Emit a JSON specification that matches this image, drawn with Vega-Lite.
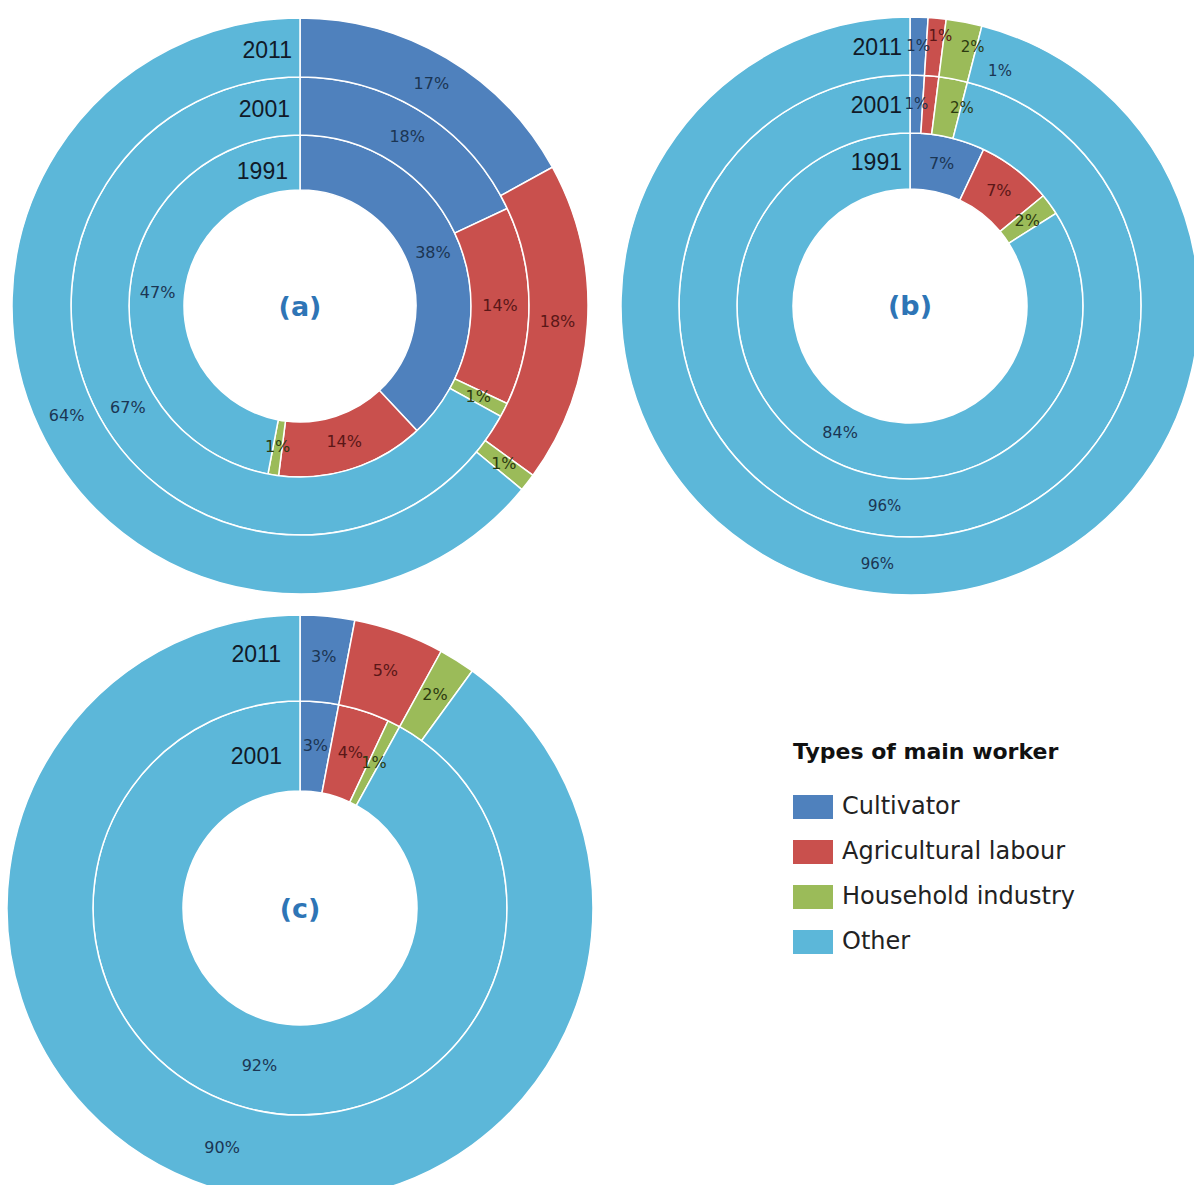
{
  "$schema": "https://vega.github.io/schema/vega-lite/v6.json",
  "padding": 0,
  "background": "white",
  "config": {"view": {"stroke": null}},
  "datasets": {
    "a": [
      {"year": 1991, "type": "Cultivator", "value": 0.38},
      {"year": 1991, "type": "Agricultural labour", "value": 0.14},
      {"year": 1991, "type": "Household industry", "value": 0.01},
      {"year": 1991, "type": "Other", "value": 0.47},
      {"year": 2001, "type": "Cultivator", "value": 0.18},
      {"year": 2001, "type": "Agricultural labour", "value": 0.14},
      {"year": 2001, "type": "Household industry", "value": 0.01},
      {"year": 2001, "type": "Other", "value": 0.67},
      {"year": 2011, "type": "Cultivator", "value": 0.17},
      {"year": 2011, "type": "Agricultural labour", "value": 0.18},
      {"year": 2011, "type": "Household industry", "value": 0.01},
      {"year": 2011, "type": "Other", "value": 0.64}
    ],
    "b": [
      {"year": 1991, "type": "Cultivator", "value": 0.07},
      {"year": 1991, "type": "Agricultural labour", "value": 0.07},
      {"year": 1991, "type": "Household industry", "value": 0.02},
      {"year": 1991, "type": "Other", "value": 0.84},
      {"year": 2001, "type": "Cultivator", "value": 0.01},
      {"year": 2001, "type": "Agricultural labour", "value": 0.01},
      {"year": 2001, "type": "Household industry", "value": 0.02},
      {"year": 2001, "type": "Other", "value": 0.96},
      {"year": 2011, "type": "Cultivator", "value": 0.01},
      {"year": 2011, "type": "Agricultural labour", "value": 0.01},
      {"year": 2011, "type": "Household industry", "value": 0.02},
      {"year": 2011, "type": "Other", "value": 0.96}
    ],
    "c": [
      {"year": 2001, "type": "Cultivator", "value": 0.03},
      {"year": 2001, "type": "Agricultural labour", "value": 0.04},
      {"year": 2001, "type": "Household industry", "value": 0.01},
      {"year": 2001, "type": "Other", "value": 0.92},
      {"year": 2011, "type": "Cultivator", "value": 0.03},
      {"year": 2011, "type": "Agricultural labour", "value": 0.05},
      {"year": 2011, "type": "Household industry", "value": 0.02},
      {"year": 2011, "type": "Other", "value": 0.90}
    ]
  },
  "spacing": 0,
  "vconcat": [
    {
      "spacing": 10,
      "hconcat": [
        {
          "width": 600, "height": 612,
          "data": {"name": "a"},
          "transform": [{"calculate": "indexof(['Cultivator','Agricultural labour','Household industry','Other'], datum.type)", "as": "rank"}],
          "layer": [
            {"transform": [{"filter": "datum.year == 1991"}], "mark": {"type": "arc", "radius": 171, "radius2": 116, "stroke": "#ffffff", "strokeWidth": 1.5},
             "encoding": {"theta": {"field": "value", "type": "quantitative", "stack": true, "scale": {"domain": [0, 1]}}, "order": {"field": "rank", "type": "quantitative"},
               "color": {"field": "type", "type": "nominal", "sort": ["Cultivator", "Agricultural labour", "Household industry", "Other"], "scale": {"domain": ["Cultivator", "Agricultural labour", "Household industry", "Other"], "range": ["#4F81BD", "#C9504D", "#9BBB59", "#5CB7D9"]},
                 "legend": {"title": "Types of main worker", "orient": "none", "legendX": 793, "legendY": 742, "titleFont": "DejaVu Sans", "titleFontSize": 22, "titleFontWeight": "bold", "titleColor": "#111111", "titlePadding": 23, "titleLimit": 600, "labelFont": "DejaVu Sans", "labelFontSize": 24, "labelColor": "#222222", "labelLimit": 500, "labelOffset": 9, "symbolType": "M-1,-0.6H1V0.6H-1Z", "symbolSize": 1600, "symbolStrokeWidth": 0, "symbolOpacity": 1, "rowPadding": 13}}}},
            {"transform": [{"filter": "datum.year == 2001"}], "mark": {"type": "arc", "radius": 229, "radius2": 171, "stroke": "#ffffff", "strokeWidth": 1.5},
             "encoding": {"theta": {"field": "value", "type": "quantitative", "stack": true, "scale": {"domain": [0, 1]}}, "order": {"field": "rank", "type": "quantitative"},
               "color": {"field": "type", "type": "nominal", "sort": ["Cultivator", "Agricultural labour", "Household industry", "Other"], "scale": {"domain": ["Cultivator", "Agricultural labour", "Household industry", "Other"], "range": ["#4F81BD", "#C9504D", "#9BBB59", "#5CB7D9"]},
                 "legend": {"title": "Types of main worker", "orient": "none", "legendX": 793, "legendY": 742, "titleFont": "DejaVu Sans", "titleFontSize": 22, "titleFontWeight": "bold", "titleColor": "#111111", "titlePadding": 23, "titleLimit": 600, "labelFont": "DejaVu Sans", "labelFontSize": 24, "labelColor": "#222222", "labelLimit": 500, "labelOffset": 9, "symbolType": "M-1,-0.6H1V0.6H-1Z", "symbolSize": 1600, "symbolStrokeWidth": 0, "symbolOpacity": 1, "rowPadding": 13}}}},
            {"transform": [{"filter": "datum.year == 2011"}], "mark": {"type": "arc", "radius": 288, "radius2": 229, "stroke": "#ffffff", "strokeWidth": 1.5},
             "encoding": {"theta": {"field": "value", "type": "quantitative", "stack": true, "scale": {"domain": [0, 1]}}, "order": {"field": "rank", "type": "quantitative"},
               "color": {"field": "type", "type": "nominal", "sort": ["Cultivator", "Agricultural labour", "Household industry", "Other"], "scale": {"domain": ["Cultivator", "Agricultural labour", "Household industry", "Other"], "range": ["#4F81BD", "#C9504D", "#9BBB59", "#5CB7D9"]},
                 "legend": {"title": "Types of main worker", "orient": "none", "legendX": 793, "legendY": 742, "titleFont": "DejaVu Sans", "titleFontSize": 22, "titleFontWeight": "bold", "titleColor": "#111111", "titlePadding": 23, "titleLimit": 600, "labelFont": "DejaVu Sans", "labelFontSize": 24, "labelColor": "#222222", "labelLimit": 500, "labelOffset": 9, "symbolType": "M-1,-0.6H1V0.6H-1Z", "symbolSize": 1600, "symbolStrokeWidth": 0, "symbolOpacity": 1, "rowPadding": 13}}}},
            {"transform": [{"filter": "datum.year == 1991"}], "mark": {"type": "text", "radius": 143, "font": "DejaVu Sans", "fontSize": 16},
             "encoding": {"theta": {"field": "value", "type": "quantitative", "stack": true, "scale": {"domain": [0, 1]}}, "order": {"field": "rank", "type": "quantitative"}, "detail": {"field": "type", "type": "nominal"},
               "text": {"field": "value", "type": "quantitative", "format": ".0%"},
               "color": {"condition": [{"test": "datum.type === 'Agricultural labour'", "value": "#5a1717"}, {"test": "datum.type === 'Household industry'", "value": "#2c3a10"}], "value": "#1b3553"}}},
            {"transform": [{"filter": "datum.year == 2001"}], "mark": {"type": "text", "radius": 200, "font": "DejaVu Sans", "fontSize": 16},
             "encoding": {"theta": {"field": "value", "type": "quantitative", "stack": true, "scale": {"domain": [0, 1]}}, "order": {"field": "rank", "type": "quantitative"}, "detail": {"field": "type", "type": "nominal"},
               "text": {"field": "value", "type": "quantitative", "format": ".0%"},
               "color": {"condition": [{"test": "datum.type === 'Agricultural labour'", "value": "#5a1717"}, {"test": "datum.type === 'Household industry'", "value": "#2c3a10"}], "value": "#1b3553"}}},
            {"transform": [{"filter": "datum.year == 2011"}], "mark": {"type": "text", "radius": 258, "font": "DejaVu Sans", "fontSize": 16},
             "encoding": {"theta": {"field": "value", "type": "quantitative", "stack": true, "scale": {"domain": [0, 1]}}, "order": {"field": "rank", "type": "quantitative"}, "detail": {"field": "type", "type": "nominal"},
               "text": {"field": "value", "type": "quantitative", "format": ".0%"},
               "color": {"condition": [{"test": "datum.type === 'Agricultural labour'", "value": "#5a1717"}, {"test": "datum.type === 'Household industry'", "value": "#2c3a10"}], "value": "#1b3553"}}},
            {"transform": [{"filter": "datum.year == 1991 && datum.type === 'Other'"}], "mark": {"type": "text", "theta": 0, "radius": 143, "align": "right", "baseline": "middle", "dx": -12, "dy": 9, "font": "Liberation Sans", "fontSize": 23, "color": "#111a28"}, "encoding": {"text": {"field": "year", "type": "nominal"}}},
            {"transform": [{"filter": "datum.year == 2001 && datum.type === 'Other'"}], "mark": {"type": "text", "theta": 0, "radius": 200, "align": "right", "baseline": "middle", "dx": -10, "dy": 4, "font": "Liberation Sans", "fontSize": 23, "color": "#111a28"}, "encoding": {"text": {"field": "year", "type": "nominal"}}},
            {"transform": [{"filter": "datum.year == 2011 && datum.type === 'Other'"}], "mark": {"type": "text", "theta": 0, "radius": 258, "align": "right", "baseline": "middle", "dx": -8, "dy": 3, "font": "Liberation Sans", "fontSize": 23, "color": "#111a28"}, "encoding": {"text": {"field": "year", "type": "nominal"}}},
            {"transform": [{"filter": "datum.year == 2011 && datum.type === 'Other'"}], "mark": {"type": "text", "baseline": "middle", "dy": 2, "font": "DejaVu Sans", "fontWeight": "bold", "fontSize": 27, "color": "#2E75B6"}, "encoding": {"text": {"value": "(a)"}}}
          ]
        },
        {
          "width": 600, "height": 612,
          "data": {"name": "b"},
          "transform": [{"calculate": "indexof(['Cultivator','Agricultural labour','Household industry','Other'], datum.type)", "as": "rank"}],
          "layer": [
            {"transform": [{"filter": "datum.year == 1991"}], "mark": {"type": "arc", "radius": 173, "radius2": 117, "stroke": "#ffffff", "strokeWidth": 1.5},
             "encoding": {"theta": {"field": "value", "type": "quantitative", "stack": true, "scale": {"domain": [0, 1]}}, "order": {"field": "rank", "type": "quantitative"},
               "color": {"field": "type", "type": "nominal", "sort": ["Cultivator", "Agricultural labour", "Household industry", "Other"], "scale": {"domain": ["Cultivator", "Agricultural labour", "Household industry", "Other"], "range": ["#4F81BD", "#C9504D", "#9BBB59", "#5CB7D9"]},
                 "legend": {"title": "Types of main worker", "orient": "none", "legendX": 793, "legendY": 742, "titleFont": "DejaVu Sans", "titleFontSize": 22, "titleFontWeight": "bold", "titleColor": "#111111", "titlePadding": 23, "titleLimit": 600, "labelFont": "DejaVu Sans", "labelFontSize": 24, "labelColor": "#222222", "labelLimit": 500, "labelOffset": 9, "symbolType": "M-1,-0.6H1V0.6H-1Z", "symbolSize": 1600, "symbolStrokeWidth": 0, "symbolOpacity": 1, "rowPadding": 13}}}},
            {"transform": [{"filter": "datum.year == 2001"}], "mark": {"type": "arc", "radius": 231, "radius2": 173, "stroke": "#ffffff", "strokeWidth": 1.5},
             "encoding": {"theta": {"field": "value", "type": "quantitative", "stack": true, "scale": {"domain": [0, 1]}}, "order": {"field": "rank", "type": "quantitative"},
               "color": {"field": "type", "type": "nominal", "sort": ["Cultivator", "Agricultural labour", "Household industry", "Other"], "scale": {"domain": ["Cultivator", "Agricultural labour", "Household industry", "Other"], "range": ["#4F81BD", "#C9504D", "#9BBB59", "#5CB7D9"]},
                 "legend": {"title": "Types of main worker", "orient": "none", "legendX": 793, "legendY": 742, "titleFont": "DejaVu Sans", "titleFontSize": 22, "titleFontWeight": "bold", "titleColor": "#111111", "titlePadding": 23, "titleLimit": 600, "labelFont": "DejaVu Sans", "labelFontSize": 24, "labelColor": "#222222", "labelLimit": 500, "labelOffset": 9, "symbolType": "M-1,-0.6H1V0.6H-1Z", "symbolSize": 1600, "symbolStrokeWidth": 0, "symbolOpacity": 1, "rowPadding": 13}}}},
            {"transform": [{"filter": "datum.year == 2011"}], "mark": {"type": "arc", "radius": 289, "radius2": 231, "stroke": "#ffffff", "strokeWidth": 1.5},
             "encoding": {"theta": {"field": "value", "type": "quantitative", "stack": true, "scale": {"domain": [0, 1]}}, "order": {"field": "rank", "type": "quantitative"},
               "color": {"field": "type", "type": "nominal", "sort": ["Cultivator", "Agricultural labour", "Household industry", "Other"], "scale": {"domain": ["Cultivator", "Agricultural labour", "Household industry", "Other"], "range": ["#4F81BD", "#C9504D", "#9BBB59", "#5CB7D9"]},
                 "legend": {"title": "Types of main worker", "orient": "none", "legendX": 793, "legendY": 742, "titleFont": "DejaVu Sans", "titleFontSize": 22, "titleFontWeight": "bold", "titleColor": "#111111", "titlePadding": 23, "titleLimit": 600, "labelFont": "DejaVu Sans", "labelFontSize": 24, "labelColor": "#222222", "labelLimit": 500, "labelOffset": 9, "symbolType": "M-1,-0.6H1V0.6H-1Z", "symbolSize": 1600, "symbolStrokeWidth": 0, "symbolOpacity": 1, "rowPadding": 13}}}},
            {"transform": [{"filter": "datum.year == 1991"}], "mark": {"type": "text", "radius": 145, "font": "DejaVu Sans", "fontSize": 16},
             "encoding": {"theta": {"field": "value", "type": "quantitative", "stack": true, "scale": {"domain": [0, 1]}}, "order": {"field": "rank", "type": "quantitative"}, "detail": {"field": "type", "type": "nominal"},
               "text": {"field": "value", "type": "quantitative", "format": ".0%"},
               "color": {"condition": [{"test": "datum.type === 'Agricultural labour'", "value": "#5a1717"}, {"test": "datum.type === 'Household industry'", "value": "#2c3a10"}], "value": "#1b3553"}}},
            {"transform": [{"filter": "datum.year == 2001"}], "mark": {"type": "text", "radius": 202, "font": "DejaVu Sans", "fontSize": 15},
             "encoding": {"theta": {"field": "value", "type": "quantitative", "stack": true, "scale": {"domain": [0, 1]}}, "order": {"field": "rank", "type": "quantitative"}, "detail": {"field": "type", "type": "nominal"},
               "text": {"condition": {"test": "datum.type === 'Agricultural labour' || datum.type === 'Household industry'", "value": ""}, "field": "value", "type": "quantitative", "format": ".0%"},
               "color": {"value": "#1b3553"}}},
            {"transform": [{"filter": "datum.year == 2001"}], "mark": {"type": "text", "radius": 202, "dx": 71, "dy": -34, "font": "DejaVu Sans", "fontSize": 15},
             "encoding": {"theta": {"field": "value", "type": "quantitative", "stack": true, "scale": {"domain": [0, 1]}}, "order": {"field": "rank", "type": "quantitative"}, "detail": {"field": "type", "type": "nominal"},
               "text": {"condition": {"test": "datum.type !== 'Agricultural labour'", "value": ""}, "field": "value", "type": "quantitative", "format": ".0%"},
               "color": {"value": "#1b3553"}}},
            {"transform": [{"filter": "datum.year == 2001"}], "mark": {"type": "text", "radius": 202, "dx": 14, "font": "DejaVu Sans", "fontSize": 15},
             "encoding": {"theta": {"field": "value", "type": "quantitative", "stack": true, "scale": {"domain": [0, 1]}}, "order": {"field": "rank", "type": "quantitative"}, "detail": {"field": "type", "type": "nominal"},
               "text": {"condition": {"test": "datum.type !== 'Household industry'", "value": ""}, "field": "value", "type": "quantitative", "format": ".0%"},
               "color": {"value": "#2c3a10"}}},
            {"transform": [{"filter": "datum.year == 2011"}], "mark": {"type": "text", "radius": 260, "font": "DejaVu Sans", "fontSize": 15},
             "encoding": {"theta": {"field": "value", "type": "quantitative", "stack": true, "scale": {"domain": [0, 1]}}, "order": {"field": "rank", "type": "quantitative"}, "detail": {"field": "type", "type": "nominal"},
               "text": {"condition": {"test": "datum.type === 'Agricultural labour' || datum.type === 'Household industry'", "value": ""}, "field": "value", "type": "quantitative", "format": ".0%"},
               "color": {"value": "#1b3553"}}},
            {"transform": [{"filter": "datum.year == 2011"}], "mark": {"type": "text", "radius": 260, "dx": 6, "dy": -11, "font": "DejaVu Sans", "fontSize": 15},
             "encoding": {"theta": {"field": "value", "type": "quantitative", "stack": true, "scale": {"domain": [0, 1]}}, "order": {"field": "rank", "type": "quantitative"}, "detail": {"field": "type", "type": "nominal"},
               "text": {"condition": {"test": "datum.type !== 'Agricultural labour'", "value": ""}, "field": "value", "type": "quantitative", "format": ".0%"},
               "color": {"value": "#5a1717"}}},
            {"transform": [{"filter": "datum.year == 2011"}], "mark": {"type": "text", "radius": 260, "dx": 14, "dy": -4, "font": "DejaVu Sans", "fontSize": 15},
             "encoding": {"theta": {"field": "value", "type": "quantitative", "stack": true, "scale": {"domain": [0, 1]}}, "order": {"field": "rank", "type": "quantitative"}, "detail": {"field": "type", "type": "nominal"},
               "text": {"condition": {"test": "datum.type !== 'Household industry'", "value": ""}, "field": "value", "type": "quantitative", "format": ".0%"},
               "color": {"value": "#2c3a10"}}},
            {"transform": [{"filter": "datum.year == 1991 && datum.type === 'Other'"}], "mark": {"type": "text", "theta": 0, "radius": 145, "align": "right", "baseline": "middle", "dx": -8, "dy": 2, "font": "Liberation Sans", "fontSize": 23, "color": "#111a28"}, "encoding": {"text": {"field": "year", "type": "nominal"}}},
            {"transform": [{"filter": "datum.year == 2001 && datum.type === 'Other'"}], "mark": {"type": "text", "theta": 0, "radius": 202, "align": "right", "baseline": "middle", "dx": -8, "dy": 2, "font": "Liberation Sans", "fontSize": 23, "color": "#111a28"}, "encoding": {"text": {"field": "year", "type": "nominal"}}},
            {"transform": [{"filter": "datum.year == 2011 && datum.type === 'Other'"}], "mark": {"type": "text", "theta": 0, "radius": 260, "align": "right", "baseline": "middle", "dx": -8, "dy": 2, "font": "Liberation Sans", "fontSize": 23, "color": "#111a28"}, "encoding": {"text": {"field": "year", "type": "nominal"}}},
            {"transform": [{"filter": "datum.year == 2011 && datum.type === 'Other'"}], "mark": {"type": "text", "baseline": "middle", "dy": 1, "font": "DejaVu Sans", "fontWeight": "bold", "fontSize": 27, "color": "#2E75B6"}, "encoding": {"text": {"value": "(b)"}}}
          ]
        }
      ]
    },
    {
      "width": 600, "height": 590,
      "data": {"name": "c"},
      "transform": [{"calculate": "indexof(['Cultivator','Agricultural labour','Household industry','Other'], datum.type)", "as": "rank"}],
      "layer": [
        {"transform": [{"filter": "datum.year == 2001"}], "mark": {"type": "arc", "radius": 207, "radius2": 117, "stroke": "#ffffff", "strokeWidth": 1.5},
         "encoding": {"theta": {"field": "value", "type": "quantitative", "stack": true, "scale": {"domain": [0, 1]}}, "order": {"field": "rank", "type": "quantitative"},
           "color": {"field": "type", "type": "nominal", "sort": ["Cultivator", "Agricultural labour", "Household industry", "Other"], "scale": {"domain": ["Cultivator", "Agricultural labour", "Household industry", "Other"], "range": ["#4F81BD", "#C9504D", "#9BBB59", "#5CB7D9"]},
             "legend": {"title": "Types of main worker", "orient": "none", "legendX": 793, "legendY": 742, "titleFont": "DejaVu Sans", "titleFontSize": 22, "titleFontWeight": "bold", "titleColor": "#111111", "titlePadding": 23, "titleLimit": 600, "labelFont": "DejaVu Sans", "labelFontSize": 24, "labelColor": "#222222", "labelLimit": 500, "labelOffset": 9, "symbolType": "M-1,-0.6H1V0.6H-1Z", "symbolSize": 1600, "symbolStrokeWidth": 0, "symbolOpacity": 1, "rowPadding": 13}}}},
        {"transform": [{"filter": "datum.year == 2011"}], "mark": {"type": "arc", "radius": 293, "radius2": 207, "stroke": "#ffffff", "strokeWidth": 1.5},
         "encoding": {"theta": {"field": "value", "type": "quantitative", "stack": true, "scale": {"domain": [0, 1]}}, "order": {"field": "rank", "type": "quantitative"},
           "color": {"field": "type", "type": "nominal", "sort": ["Cultivator", "Agricultural labour", "Household industry", "Other"], "scale": {"domain": ["Cultivator", "Agricultural labour", "Household industry", "Other"], "range": ["#4F81BD", "#C9504D", "#9BBB59", "#5CB7D9"]},
             "legend": {"title": "Types of main worker", "orient": "none", "legendX": 793, "legendY": 742, "titleFont": "DejaVu Sans", "titleFontSize": 22, "titleFontWeight": "bold", "titleColor": "#111111", "titlePadding": 23, "titleLimit": 600, "labelFont": "DejaVu Sans", "labelFontSize": 24, "labelColor": "#222222", "labelLimit": 500, "labelOffset": 9, "symbolType": "M-1,-0.6H1V0.6H-1Z", "symbolSize": 1600, "symbolStrokeWidth": 0, "symbolOpacity": 1, "rowPadding": 13}}}},
        {"transform": [{"filter": "datum.year == 2001"}], "mark": {"type": "text", "radius": 163, "font": "DejaVu Sans", "fontSize": 16},
         "encoding": {"theta": {"field": "value", "type": "quantitative", "stack": true, "scale": {"domain": [0, 1]}}, "order": {"field": "rank", "type": "quantitative"}, "detail": {"field": "type", "type": "nominal"},
           "text": {"field": "value", "type": "quantitative", "format": ".0%"},
           "color": {"condition": [{"test": "datum.type === 'Agricultural labour'", "value": "#5a1717"}, {"test": "datum.type === 'Household industry'", "value": "#2c3a10"}], "value": "#1b3553"}}},
        {"transform": [{"filter": "datum.year == 2011"}], "mark": {"type": "text", "radius": 252, "font": "DejaVu Sans", "fontSize": 16},
         "encoding": {"theta": {"field": "value", "type": "quantitative", "stack": true, "scale": {"domain": [0, 1]}}, "order": {"field": "rank", "type": "quantitative"}, "detail": {"field": "type", "type": "nominal"},
           "text": {"field": "value", "type": "quantitative", "format": ".0%"},
           "color": {"condition": [{"test": "datum.type === 'Agricultural labour'", "value": "#5a1717"}, {"test": "datum.type === 'Household industry'", "value": "#2c3a10"}], "value": "#1b3553"}}},
        {"transform": [{"filter": "datum.year == 2001 && datum.type === 'Other'"}], "mark": {"type": "text", "theta": 0, "radius": 163, "align": "right", "baseline": "middle", "dx": -18, "dy": 12, "font": "Liberation Sans", "fontSize": 23, "color": "#111a28"}, "encoding": {"text": {"field": "year", "type": "nominal"}}},
        {"transform": [{"filter": "datum.year == 2011 && datum.type === 'Other'"}], "mark": {"type": "text", "theta": 0, "radius": 252, "align": "right", "baseline": "middle", "dx": -19, "dy": -1, "font": "Liberation Sans", "fontSize": 23, "color": "#111a28"}, "encoding": {"text": {"field": "year", "type": "nominal"}}},
        {"transform": [{"filter": "datum.year == 2011 && datum.type === 'Other'"}], "mark": {"type": "text", "baseline": "middle", "dy": 2, "font": "DejaVu Sans", "fontWeight": "bold", "fontSize": 27, "color": "#2E75B6"}, "encoding": {"text": {"value": "(c)"}}}
      ]
    }
  ]
}
